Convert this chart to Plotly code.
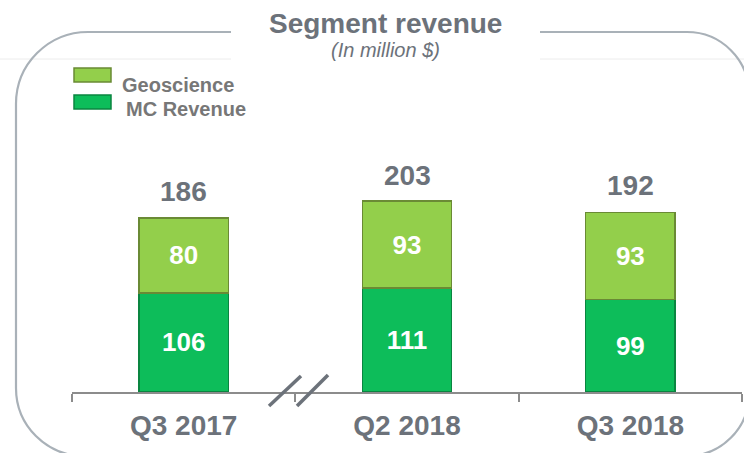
import plotly.graph_objects as go

# ---- data ----
categories = ["Q3 2017", "Q2 2018", "Q3 2018"]
mc_revenue = [106, 111, 99]
geoscience = [80, 93, 93]
totals = [186, 203, 192]
series_names = ["Geoscience", "MC Revenue"]
title_text = "Segment revenue"
subtitle_text = "(In million $)"

# ---- style ----
W, H = 744, 453
PLOT_L, PLOT_R, PLOT_T, PLOT_B = 72, 742, 60, 392  # screen pixels
ML, MT = PLOT_L, PLOT_T
MR = W - PLOT_R
MB = H - PLOT_B
PW, PH = PLOT_R - PLOT_L, PLOT_B - PLOT_T
GEO_COLOR = "#93cf4b"
GEO_LINE = "#6a8a35"
MC_COLOR = "#0dbd5a"
MC_LINE = "#0a8540"
TEXT_GRAY = "#6c727a"
LEGEND_GRAY = "#777777"
FONT = "Liberation Sans, Arial, sans-serif"


def xp(px):
    return (px - PLOT_L) / PW


def yp(py):
    return (PLOT_B - py) / PH


fig = go.Figure()
fig.add_trace(go.Bar(
    x=categories, y=mc_revenue, name=series_names[1],
    marker=dict(color=MC_COLOR, line=dict(color=MC_LINE, width=1.5)),
    text=mc_revenue, textposition="inside", insidetextanchor="middle",
    textangle=0,
    textfont=dict(color="white", size=26, family=FONT, weight="bold"),
    width=0.4, showlegend=False,
))
fig.add_trace(go.Bar(
    x=categories, y=geoscience, name=series_names[0],
    marker=dict(color=GEO_COLOR, line=dict(color=GEO_LINE, width=1.5)),
    text=geoscience, textposition="inside", insidetextanchor="middle",
    textangle=0,
    textfont=dict(color="white", size=26, family=FONT, weight="bold"),
    width=0.4, showlegend=False,
))

annotations = []
for c, t in zip(categories, totals):
    annotations.append(dict(
        x=c, y=t, xref="x", yref="y", text=str(t), showarrow=False,
        yanchor="bottom", yshift=9,
        font=dict(size=28, color=TEXT_GRAY, family=FONT, weight="bold"),
    ))

# title & subtitle
annotations.append(dict(
    x=xp(385), y=yp(24), xref="paper", yref="paper", text=title_text,
    showarrow=False, xanchor="center", yanchor="middle",
    font=dict(size=28, color=TEXT_GRAY, family=FONT, weight="bold"),
))
annotations.append(dict(
    x=xp(385), y=yp(50), xref="paper", yref="paper", text=subtitle_text,
    showarrow=False, xanchor="center", yanchor="middle",
    font=dict(size=20, color=TEXT_GRAY, family=FONT, style="italic"),
))
# legend texts
annotations.append(dict(
    x=xp(120), y=yp(85), xref="paper", yref="paper", text=series_names[0],
    showarrow=False, xanchor="left", yanchor="middle",
    font=dict(size=20, color=LEGEND_GRAY, family=FONT, weight="bold"),
))
annotations.append(dict(
    x=xp(124), y=yp(109), xref="paper", yref="paper", text=series_names[1],
    showarrow=False, xanchor="left", yanchor="middle",
    font=dict(size=20, color=LEGEND_GRAY, family=FONT, weight="bold"),
))

# rounded border path
L, T, R, B = 16, 32, 749, 456
rtl, rbl, rtr, rbr = 72, 68, 62, 62
k = 0.5523


def P(px, py):
    return f"{xp(px):.5f},{yp(py):.5f}"


path = (
    f"M {P(L, T + rtl)} "
    f"C {P(L, T + rtl - k * rtl)} {P(L + rtl - k * rtl, T)} {P(L + rtl, T)} "
    f"L {P(R - rtr, T)} "
    f"C {P(R - rtr + k * rtr, T)} {P(R, T + rtr - k * rtr)} {P(R, T + rtr)} "
    f"L {P(R, B - rbr)} "
    f"C {P(R, B - rbr + k * rbr)} {P(R - rbr + k * rbr, B)} {P(R - rbr, B)} "
    f"L {P(L + rbl, B)} "
    f"C {P(L + rbl - k * rbl, B)} {P(L, B - rbl + k * rbl)} {P(L, B - rbl)} Z"
)

shapes = [
    dict(type="line", xref="paper", yref="paper", x0=xp(0), x1=xp(744),
         y0=yp(59), y1=yp(59), line=dict(color="#ececec", width=1), layer="below"),
    dict(type="path", xref="paper", yref="paper", path=path,
         line=dict(color="#a9b1b8", width=2.2), fillcolor="rgba(0,0,0,0)", layer="below"),
    dict(type="rect", xref="paper", yref="paper", x0=xp(231), x1=xp(540),
         y0=yp(0), y1=yp(80), fillcolor="white", line=dict(width=0), layer="below"),
    # legend swatches
    dict(type="rect", xref="paper", yref="paper", x0=xp(74), x1=xp(111),
         y0=yp(68), y1=yp(82), fillcolor=GEO_COLOR, line=dict(color=GEO_LINE, width=1.5)),
    dict(type="rect", xref="paper", yref="paper", x0=xp(74), x1=xp(111),
         y0=yp(95), y1=yp(109), fillcolor=MC_COLOR, line=dict(color=MC_LINE, width=1.5)),
    # axis break marks
    dict(type="line", xref="paper", yref="paper", x0=xp(269), y0=yp(406),
         x1=xp(301), y1=yp(376), line=dict(color=TEXT_GRAY, width=3.5)),
    dict(type="line", xref="paper", yref="paper", x0=xp(297), y0=yp(406),
         x1=xp(328), y1=yp(375), line=dict(color=TEXT_GRAY, width=3.5)),
]

fig.update_layout(
    width=W, height=H,
    margin=dict(l=ML, r=MR, t=MT, b=MB, pad=0),
    paper_bgcolor="white", plot_bgcolor="white",
    barmode="stack", bargap=0.6,
    showlegend=False,
    annotations=annotations, shapes=shapes,
    font=dict(family=FONT),
    uniformtext=dict(mode=False),
)
fig.update_xaxes(
    type="category", categoryorder="array", categoryarray=categories,
    range=[-0.5, 2.5], showgrid=False, zeroline=False,
    showline=True, linecolor="#8c8c8c", linewidth=1.5,
    ticks="outside", tickson="boundaries", ticklen=8,
    tickcolor="#8c8c8c", tickwidth=1.5,
    tickfont=dict(size=28, color=TEXT_GRAY, family=FONT, weight="bold"),
    ticklabelstandoff=8,
)
fig.update_yaxes(visible=False, range=[0, 354.7], showgrid=False, zeroline=False)

fig.write_html("out.html", config={"displayModeBar": False},
               post_script="document.body.style.margin='0';")
